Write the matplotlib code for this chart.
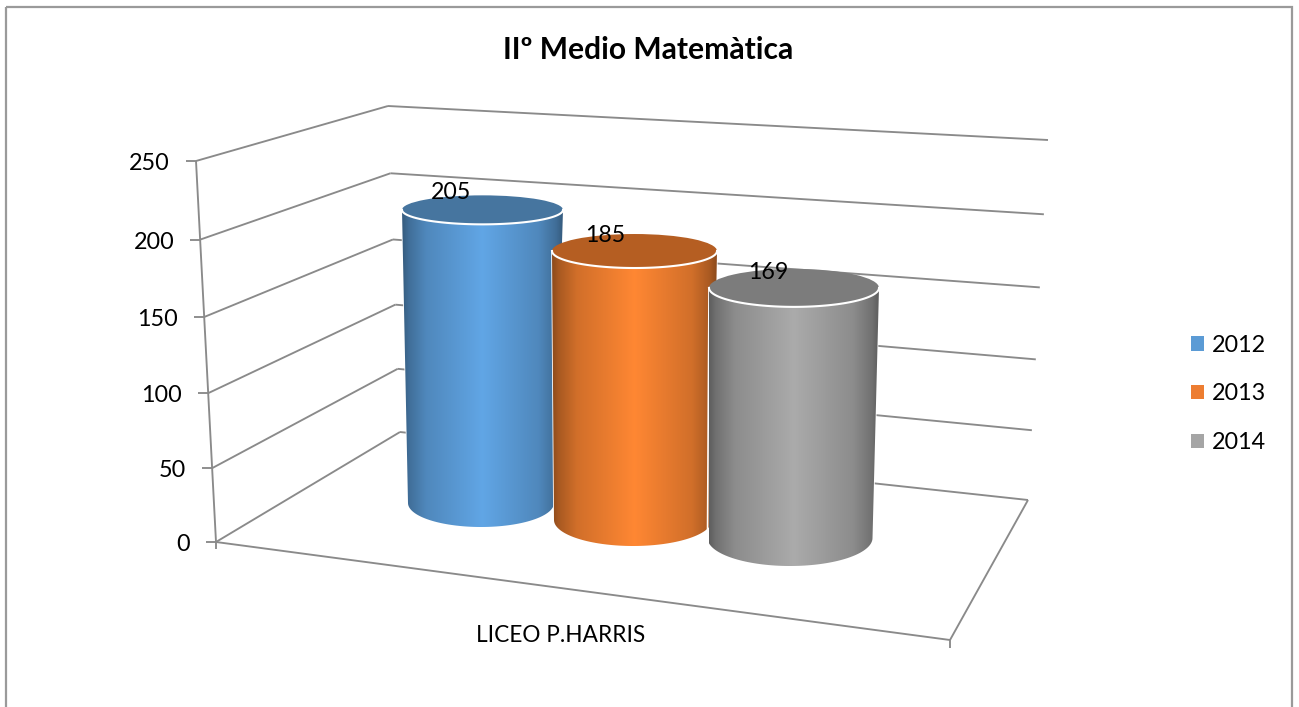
import matplotlib
matplotlib.use('Agg')
import matplotlib.pyplot as plt
import numpy as np
from matplotlib.patches import Ellipse, Polygon, Rectangle, Patch

plt.rcParams['font.family'] = ['Lato', 'DejaVu Sans']

title = 'IIº Medio Matemàtica'
category = 'LICEO P.HARRIS'
years = ['2012', '2013', '2014']
values = [205, 185, 169]
ticks = [0, 50, 100, 150, 200, 250]

legend_colors = ['#5B9BD5', '#ED7D31', '#A5A5A5']
side_colors = [(0.38, 0.65, 0.90), (1.0, 0.53, 0.20), (0.67, 0.67, 0.67)]
top_colors = ['#46759F', '#B55E22', '#7C7C7C']
line_color = '#8A8A8A'

# fake 3d box in pixel coords: corners at value 0 and value 250
front_left = [(216, 542), (196, 161)]
back_left = [(400, 432), (388, 106)]
back_right = [(1028, 500), (1048, 140)]
front_right = (950, 640)

# cylinder geometry, one entry per year
base_x = [481, 633, 790]
top_x = [482.5, 634.5, 794]
base_y = [503, 520, 538]
unit_px = [1.43, 1.454, 1.48]
base_w = [73, 79, 82.5]
base_h = [24, 26, 28]
top_w = [80.5, 82.5, 85]
top_h = [14.5, 17, 19]
label_dx = [-31, -29.5, -26]
label_dy = [-17, -16, -15]


def wall_point(corner, v):
    t = v / ticks[-1]
    f = t / (1 + 0.04 * (1 - t))
    return (corner[0][0] + (corner[1][0] - corner[0][0]) * f,
            corner[0][1] + (corner[1][1] - corner[0][1]) * f)


def gline(ax, p, q, lw=1.35):
    ax.plot([p[0], q[0]], [p[1], q[1]], color=line_color, lw=lw, zorder=1,
            solid_capstyle='butt')


fig = plt.figure(figsize=(12.99, 7.07), dpi=100)
ax = fig.add_axes([0, 0, 1, 1])
ax.set_xlim(0, 1299)
ax.set_ylim(707, 0)
ax.axis('off')

# chart frame
ax.add_patch(Rectangle((6, 7), 1286, 710, fill=False, ec='#9A9A9A', lw=1.6))

# walls and ticks
for v in ticks:
    a = wall_point(front_left, v)
    b = wall_point(back_left, v)
    c = wall_point(back_right, v)
    gline(ax, a, b)
    gline(ax, b, c)
    gline(ax, (a[0] - 10, a[1]), a)
    ax.text(a[0] - 26, a[1] + 2.5, str(v), ha='right', va='center', fontsize=16.8, color='black')

gline(ax, wall_point(front_left, 0), wall_point(front_left, 250))
gline(ax, front_left[0], front_right)
gline(ax, front_right, back_right[0])
gline(ax, front_left[0], (front_left[0][0], front_left[0][1] + 7))
gline(ax, front_right, (front_right[0], front_right[1] + 8))

# cylinders
profile_x = [0, 0.04, 0.15, 0.5, 0.85, 0.96, 1]
profile_s = [0.55, 0.66, 0.82, 1, 0.82, 0.66, 0.55]
shade = np.interp(np.linspace(0, 1, 256), profile_x, profile_s)
theta = np.linspace(0, np.pi, 80)

for i, v in enumerate(values):
    z = 3 + i * 2
    ty = base_y[i] - v * unit_px[i]
    tx = top_x[i]
    top_front = np.column_stack([tx + top_w[i] * np.cos(theta), ty + top_h[i] * np.sin(theta)])
    base_front = np.column_stack([base_x[i] + base_w[i] * np.cos(theta), base_y[i] + base_h[i] * np.sin(theta)])
    outline = np.vstack([[tx + top_w[i], ty], base_front, [tx - top_w[i], ty]])
    body = Polygon(outline, closed=True, fc='none', ec='white', lw=1.2, zorder=z)
    ax.add_patch(body)

    grad = np.outer(shade, side_colors[i]).reshape(1, 256, 3)
    left = tx - top_w[i]
    right = tx + top_w[i]
    im = ax.imshow(grad, extent=[left, right, base_y[i] + base_h[i] + 1, ty], aspect='auto',
                   zorder=z, interpolation='bilinear')
    im.set_clip_path(body)

    ax.add_patch(Ellipse((tx, ty), top_w[i] * 2, top_h[i] * 2, fc=top_colors[i], ec='none', zorder=z + 0.2))
    ax.plot(top_front[:, 0], top_front[:, 1], color='white', lw=1.5, zorder=z + 0.3)
    ax.text(tx + label_dx[i], ty + label_dy[i], str(v), ha='center', va='center',
            fontsize=16.7, color='black', zorder=20)

ax.set_xlim(0, 1299)
ax.set_ylim(707, 0)

ax.text(648, 50, title, ha='center', va='center', fontsize=21.6, fontweight='bold', color='black')
ax.text(561, 636, category, ha='center', va='center', fontsize=16.3, color='black')

handles = [Patch(fc=c, ec='none') for c in legend_colors]
ax.legend(handles, years, loc='center left', bbox_to_anchor=(1191 / 1299, 1 - 394 / 707),
          frameon=False, fontsize=16.8, handlelength=0.56, handleheight=0.56,
          handletextpad=0.35, labelspacing=1.19, borderpad=0, borderaxespad=0)

fig.savefig('out.png', dpi=100)
